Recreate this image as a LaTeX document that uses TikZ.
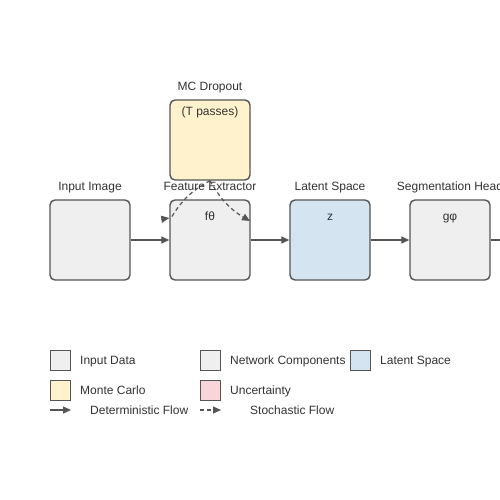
\documentclass[tikz,border=0pt]{standalone}
\usepackage{fontspec}
\setmainfont{Liberation Sans}
\usetikzlibrary{arrows.meta}
\definecolor{edge}{HTML}{555555}
\definecolor{grayfill}{HTML}{EFEFEF}
\definecolor{bluefill}{HTML}{D4E5F1}
\definecolor{yellowfill}{HTML}{FFF2CC}
\definecolor{pinkfill}{HTML}{F8D5D9}
\definecolor{txt}{HTML}{333333}
\tikzset{
  blk/.style={draw=edge, line width=1.4pt, rounded corners=5pt, minimum width=80pt, minimum height=80pt, inner sep=0pt},
  leg/.style={draw=edge, line width=1pt, minimum width=20pt, minimum height=20pt, inner sep=0pt},
  lbl/.style={text=txt, font=\fontsize{12}{14}\selectfont, inner sep=0pt, text height=8.6pt, text depth=0pt},
  flow/.style={draw=edge, line width=1.2pt, -{Triangle[length=8pt,width=7pt]}},
  sflow/.style={draw=edge, line width=1.2pt, dash pattern=on 4pt off 3pt, -{Triangle[length=8pt,width=7pt]}},
}
\begin{document}
\begin{tikzpicture}[x=1pt,y=-1pt]
\clip (0,0) rectangle (500,500);
\fill[white] (0,0) rectangle (500,500);
% blocks
\node[blk, fill=grayfill] (inp) at (90,240) {};
\node[blk, fill=grayfill] (fe) at (210,240) {};
\node[blk, fill=bluefill] (lat) at (330,240) {};
\node[blk, fill=grayfill] (seg) at (450,240) {};
\node[blk, fill=yellowfill] (mc) at (210,140) {};
% titles
\node[lbl] (tinp) at (90,186) {Input Image};
\node[lbl] (tfe) at (210,186) {Feature Extractor};
\node[lbl] (tlat) at (330,186) {Latent Space};
\node[lbl] (tseg) at (450,186) {Segmentation Head};
\node[lbl] (tmc) at (210,86) {MC Dropout};
% inner texts
\node[lbl] (imc) at (210,111) {(T passes)};
\node[lbl] (ife) at (210,216) {f\char"03B8};
\node[lbl] (ilat) at (330,216) {z};
\node[lbl] (iseg) at (450,216) {g\char"03C6};
% flows
\draw[flow] (inp.east) -- (fe.west);
\draw[flow] (fe.east) -- (lat.west);
\draw[flow] (lat.east) -- (seg.west);
\coordinate (out) at (540,240);
\draw[flow] (seg.east) -- (out);
% stochastic
\coordinate (sl) at (171,218);
\coordinate (slh) at (163,219);
\coordinate (sr) at (250,221);
\draw[draw=edge, line width=1.2pt, dash pattern=on 4pt off 3pt] (mc.south) to[bend right=15] (sl);
\draw[draw=edge, line width=1.2pt, -{Triangle[length=8pt,width=7pt]}] (slh) -- (fe.west |- sl);
\draw[sflow] (mc.south) to[bend right=15] (sr);
% legend
\node[leg, fill=grayfill] (l1) at (60,360) {};
\node[lbl, anchor=west] (l1t) at (80,360) {Input Data};
\node[leg, fill=grayfill] (l2) at (210,360) {};
\node[lbl, anchor=west] (l2t) at (230,360) {Network Components};
\node[leg, fill=bluefill] (l3) at (360,360) {};
\node[lbl, anchor=west] (l3t) at (380,360) {Latent Space};
\node[leg, fill=yellowfill] (l4) at (60,390) {};
\node[lbl, anchor=west] (l4t) at (80,390) {Monte Carlo};
\node[leg, fill=pinkfill] (l5) at (210,390) {};
\node[lbl, anchor=west] (l5t) at (230,390) {Uncertainty};
\coordinate (d1) at (50,410);
\coordinate (d2) at (71,410);
\draw[flow] (d1) -- (d2);
\node[lbl, anchor=west] (l6t) at (90,410) {Deterministic Flow};
\coordinate (s1) at (200,410);
\coordinate (s2) at (221,410);
\draw[sflow] (s1) -- (s2);
\node[lbl, anchor=west] (l7t) at (250,410) {Stochastic Flow};
\end{tikzpicture}
\end{document}
